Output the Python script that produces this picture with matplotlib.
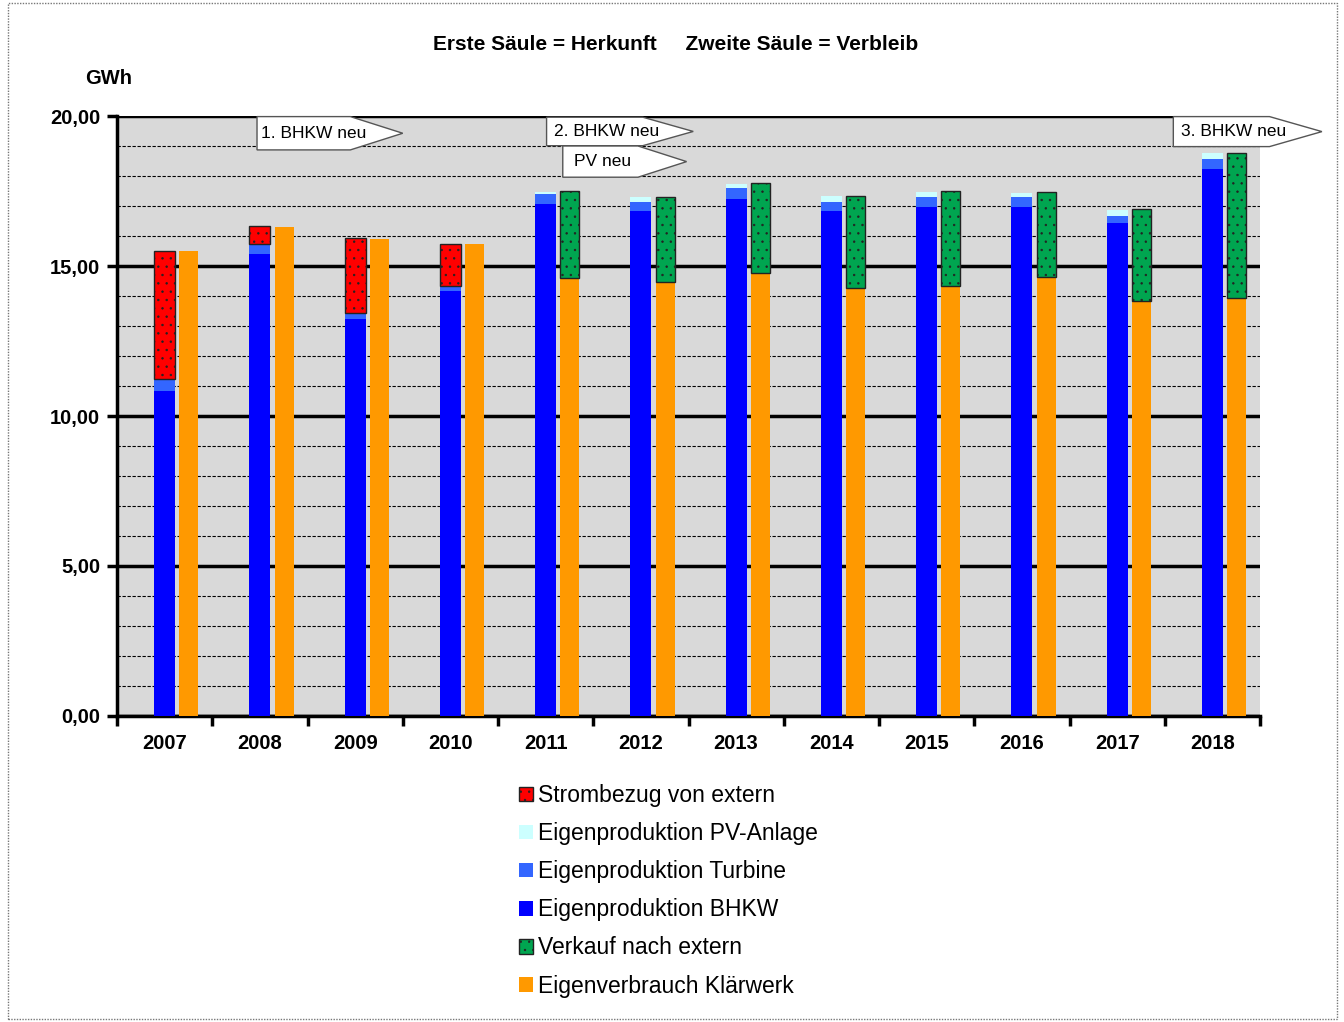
import matplotlib
matplotlib.use("Agg")
import matplotlib.pyplot as plt
from matplotlib.patches import Polygon, Rectangle, Patch
import numpy as np

plt.rcParams['font.family'] = ['Liberation Sans', 'DejaVu Sans']
plt.rcParams['hatch.linewidth'] = 0.5

years = ['2007', '2008', '2009', '2010', '2011', '2012',
         '2013', '2014', '2015', '2016', '2017', '2018']

# first column = Herkunft (GWh)
bhkw = [10.84, 15.40, 13.23, 14.16, 17.07, 16.84, 17.22, 16.84, 16.96, 16.96, 16.42, 18.25]
turbine = [0.41, 0.33, 0.21, 0.18, 0.32, 0.29, 0.38, 0.30, 0.33, 0.33, 0.26, 0.32]
pv = [0.0, 0.0, 0.0, 0.0, 0.09, 0.18, 0.14, 0.19, 0.19, 0.15, 0.19, 0.19]
bezug = [4.25, 0.60, 2.48, 1.39, 0.0, 0.0, 0.0, 0.0, 0.0, 0.0, 0.0, 0.0]

# second column = Verbleib (GWh)
eigenverbrauch = [15.50, 16.30, 15.89, 15.73, 14.61, 14.48, 14.77, 14.28, 14.34, 14.64, 13.84, 13.92]
verkauf = [0.0, 0.0, 0.0, 0.0, 2.90, 2.83, 3.01, 3.05, 3.17, 2.84, 3.05, 4.85]

# event markers
events = ["1. BHKW neu", "2. BHKW neu", "PV neu", "3. BHKW neu"]

c_bezug = '#FF0000'
c_pv = '#CCFFFF'
c_turbine = '#3366FF'
c_bhkw = '#0000FF'
c_verkauf = '#00A550'
c_eigen = '#FF9900'

fig = plt.figure(figsize=(13.44, 10.22), dpi=100)
ax = fig.add_axes([117/1344, 1 - 716/1022, (1260-117)/1344, (716-116)/1022])
ax.set_facecolor('#D9D9D9')

x = np.arange(len(years))
w1, w2, off = 0.22, 0.20, 0.255

bhkw = np.array(bhkw)
turbine = np.array(turbine)
pv = np.array(pv)
bezug = np.array(bezug)
eigenverbrauch = np.array(eigenverbrauch)
verkauf = np.array(verkauf)

ax.bar(x, bhkw, w1, color=c_bhkw, zorder=3)
ax.bar(x, turbine, w1, bottom=bhkw, color=c_turbine, zorder=3)
ax.bar(x, pv, w1, bottom=bhkw + turbine, color=c_pv, zorder=3)
has_bezug = bezug > 0
ax.bar(x[has_bezug], bezug[has_bezug], w1, bottom=(bhkw + turbine + pv)[has_bezug],
       facecolor=c_bezug, edgecolor='#222222', linewidth=1, hatch='..', zorder=3)

ax.bar(x + off, eigenverbrauch, w2, color=c_eigen, zorder=3)
has_verkauf = verkauf > 0
ax.bar(x[has_verkauf] + off, verkauf[has_verkauf], w2, bottom=eigenverbrauch[has_verkauf],
       facecolor=c_verkauf, edgecolor='#222222', linewidth=1, hatch='..', zorder=3)

ax.set_xlim(-0.5, len(years) - 0.5)
ax.set_ylim(0, 20)

# y axis: thick black major grid, dashed minor grid
ax.set_yticks(np.arange(0, 21, 5))
ax.set_yticks(np.arange(0, 21, 1), minor=True)
ax.set_yticklabels([f"{v:.2f}".replace('.', ',') for v in np.arange(0, 21, 5)],
                   fontsize=14.5, fontweight='bold')
ax.yaxis.grid(True, which='major', color='black', linewidth=2.5, zorder=1)
ax.yaxis.grid(True, which='minor', color='black', linewidth=0.8,
              linestyle=(0, (3, 1.5)), zorder=1)
ax.tick_params(axis='y', which='major', direction='out', length=7, width=2.5, pad=5)
ax.tick_params(axis='y', which='minor', length=0)
ax.set_axisbelow(True)

# x axis: ticks between categories, labels at centres
ax.set_xticks(np.arange(-0.5, len(years), 1))
ax.set_xticklabels([])
ax.set_xticks(x, minor=True)
ax.set_xticklabels(years, minor=True, fontsize=14.5, fontweight='bold')
ax.tick_params(axis='x', which='major', direction='out', length=7, width=2.5)
ax.tick_params(axis='x', which='minor', length=0, pad=13)

for s in ['top', 'right']:
    ax.spines[s].set_visible(False)
for s in ['left', 'bottom']:
    ax.spines[s].set_linewidth(2.5)

# arrow shaped notes
def note(ax, text, left, body, tip, bottom, top, tx):
    mid = (top + bottom) / 2
    poly = Polygon([(left, bottom), (left, top), (body, top), (tip, mid), (body, bottom)],
                   closed=True, facecolor='white', edgecolor='#555555', linewidth=1,
                   zorder=5, clip_on=False)
    ax.add_patch(poly)
    ax.text(tx, mid, text, ha='left', va='center', fontsize=12.5, zorder=6)

note(ax, events[0], 0.97, 1.95, 2.50, 18.87, 19.98, 1.01)
note(ax, events[1], 4.01, 5.02, 5.55, 19.01, 19.96, 4.09)
note(ax, events[2], 4.18, 4.97, 5.48, 17.96, 19.00, 4.30)
note(ax, events[3], 10.59, 11.60, 12.15, 18.98, 19.98, 10.67)

fig.text(676/1344, 1 - 44/1022, "Erste Säule = Herkunft     Zweite Säule = Verbleib",
         ha='center', va='center', fontsize=15, fontweight='bold')
fig.text(85/1344, 1 - 78/1022, "GWh", ha='left', va='center', fontsize=14.5, fontweight='bold')

handles = [
    Patch(facecolor=c_bezug, edgecolor='#222222', hatch='..', linewidth=1),
    Patch(facecolor=c_pv),
    Patch(facecolor=c_turbine),
    Patch(facecolor=c_bhkw),
    Patch(facecolor=c_verkauf, edgecolor='#222222', hatch='..', linewidth=1),
    Patch(facecolor=c_eigen),
]
labels = ["Strombezug von extern", "Eigenproduktion PV-Anlage", "Eigenproduktion Turbine",
          "Eigenproduktion BHKW", "Verkauf nach extern", "Eigenverbrauch Klärwerk"]
fig.legend(handles, labels, loc='upper left', bbox_to_anchor=(519/1344, 1 - 784/1022),
           frameon=False, fontsize=16.5, handlelength=0.6, handleheight=0.6,
           handletextpad=0.25, labelspacing=0.66, borderpad=0, borderaxespad=0)

# dotted frame around the chart
fig.patches.append(Rectangle((8/1344, 3/1022), (1337-8)/1344, (1019-3)/1022,
                             transform=fig.transFigure, fill=False, edgecolor='#777777',
                             linewidth=1, linestyle=(0, (1, 1))))

fig.savefig("out.png", dpi=100)
